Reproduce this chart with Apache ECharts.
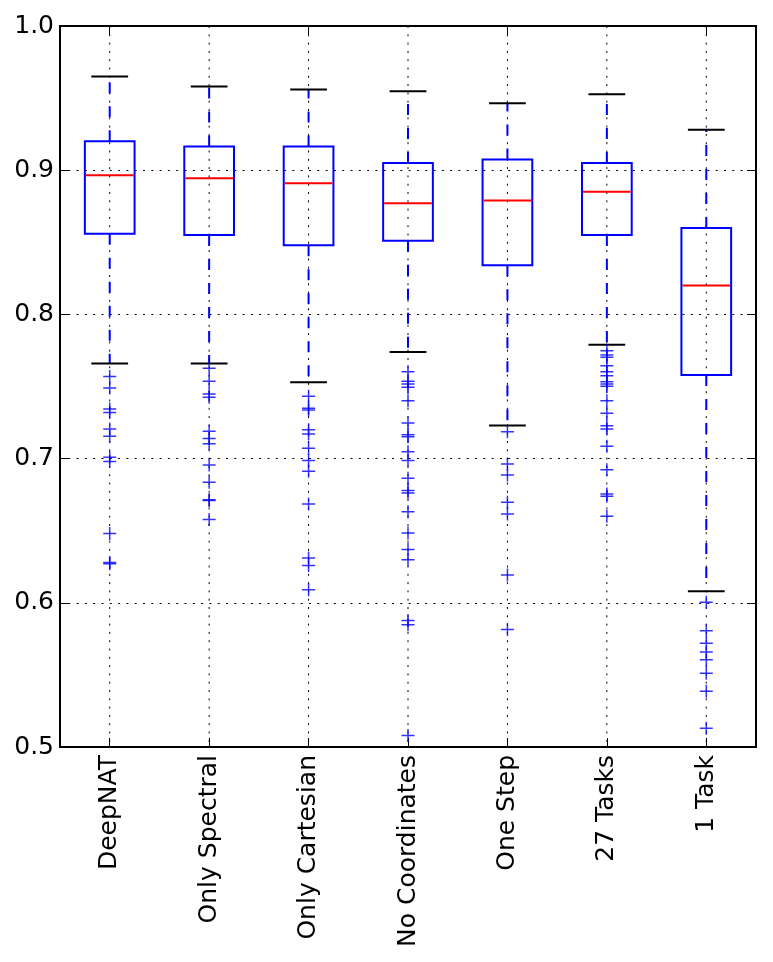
<!DOCTYPE html>
<html>
<head>
<meta charset="utf-8">
<script src="https://cdn.jsdelivr.net/npm/echarts@6/dist/echarts.min.js"></script>
<style>
  html, body { margin: 0; padding: 0; background: #fff; }
  #chart { width: 773px; height: 962px; }
</style>
</head>
<body>
<div id="chart"></div>
<script>
const categories = ['DeepNAT', 'Only Spectral', 'Only Cartesian', 'No Coordinates', 'One Step', '27 Tasks', '1 Task']
const yTicks = [0.5, 0.6, 0.7, 0.8, 0.9, 1.0]

// box statistics per category
const lowerWhisker = [0.766, 0.766, 0.753, 0.774, 0.723, 0.779, 0.608]
const q1 = [0.856, 0.855, 0.848, 0.851, 0.834, 0.855, 0.758]
const medians = [0.8965, 0.8945, 0.891, 0.877, 0.879, 0.885, 0.820]
const q3 = [0.920, 0.9165, 0.9165, 0.905, 0.9075, 0.905, 0.860]
const upperWhisker = [0.965, 0.958, 0.956, 0.9547, 0.9464, 0.9527, 0.928]

// fliers per category
const outliers = [
  [0.757, 0.749, 0.7344, 0.732, 0.7205, 0.7155, 0.701, 0.698, 0.648, 0.628, 0.627],
  [0.7626, 0.7536, 0.7448, 0.7425, 0.7189, 0.714, 0.7103, 0.6956, 0.6836, 0.6715, 0.671, 0.6577],
  [0.7432, 0.735, 0.7337, 0.720, 0.717, 0.7071, 0.6986, 0.6912, 0.6685, 0.631, 0.6258, 0.609],
  [0.7603, 0.7536, 0.7517, 0.7494, 0.7401, 0.7247, 0.7166, 0.7152, 0.7048, 0.6986, 0.6863, 0.6778, 0.6762, 0.6632, 0.6484, 0.6369, 0.6299, 0.5877, 0.5847, 0.508],
  [0.7187, 0.6963, 0.6886, 0.6697, 0.6616, 0.6193, 0.5814],
  [0.7748, 0.7718, 0.7702, 0.7644, 0.7603, 0.7575, 0.7533, 0.7517, 0.7501, 0.7401, 0.7314, 0.7228, 0.7205, 0.7085, 0.6923, 0.6755, 0.6739, 0.660],
  [0.6004, 0.5807, 0.572, 0.5658, 0.5605, 0.5512, 0.5387, 0.513]
]

const boxData = categories.map((c, i) => [i, lowerWhisker[i], q1[i], medians[i], q3[i], upperWhisker[i]])
const flierData = []
outliers.forEach((list, i) => list.forEach(v => flierData.push([i, v])))

const font = 'DejaVu Sans'
const gridDash = [2, 6.3]

function renderBox (params, api) {
  const i = api.value(0)
  const lo = api.coord([i, api.value(1)])
  const b = api.coord([i, api.value(2)])
  const m = api.coord([i, api.value(3)])
  const t = api.coord([i, api.value(4)])
  const hi = api.coord([i, api.value(5)])
  const band = api.size([1, 0])[0]
  const boxW = band * 0.5
  const capW = band * 0.37
  const x = lo[0]
  const cs = params.coordSys
  const whisker = { stroke: '#0000ff', lineWidth: 2, lineDash: [11, 13] }
  const cap = { stroke: '#000', lineWidth: 2 }
  return {
    type: 'group',
    children: [
      // vertical dotted grid line at category center
      { type: 'line', shape: { x1: x, y1: cs.y, x2: x, y2: cs.y + cs.height }, style: { stroke: '#000', lineWidth: 1, lineDash: gridDash }, z2: 0 },
      { type: 'line', shape: { x1: x, y1: b[1], x2: x, y2: lo[1] }, style: whisker, z2: 1 },
      { type: 'line', shape: { x1: x, y1: t[1], x2: x, y2: hi[1] }, style: whisker, z2: 1 },
      { type: 'line', shape: { x1: x - capW / 2, y1: lo[1], x2: x + capW / 2, y2: lo[1] }, style: cap, z2: 2 },
      { type: 'line', shape: { x1: x - capW / 2, y1: hi[1], x2: x + capW / 2, y2: hi[1] }, style: cap, z2: 2 },
      { type: 'rect', shape: { x: x - boxW / 2, y: t[1], width: boxW, height: b[1] - t[1] }, style: { fill: 'none', stroke: '#0000ff', lineWidth: 2 }, z2: 2 },
      { type: 'line', shape: { x1: x - boxW / 2 + 1, y1: m[1], x2: x + boxW / 2 - 1, y2: m[1] }, style: { stroke: '#ff0000', lineWidth: 2 }, z2: 3 }
    ]
  }
}

const chart = echarts.init(document.getElementById('chart'))
const option = {
  animation: false,
  backgroundColor: '#fff',
  grid: {
    left: 60,
    right: 17,
    top: 26,
    bottom: 215,
    show: true,
    borderColor: '#000',
    borderWidth: 2,
    backgroundColor: 'transparent'
  },
  xAxis: [
    {
      type: 'category',
      data: categories,
      boundaryGap: true,
      position: 'bottom',
      axisLine: { show: false },
      axisTick: { show: true, inside: true, alignWithLabel: true, length: 9, lineStyle: { color: '#000', width: 1 } },
      axisLabel: { rotate: 90, interval: 0, margin: 8, fontSize: 25, color: '#000', fontFamily: font },
      splitLine: { show: false }
    },
    {
      type: 'category',
      data: categories,
      boundaryGap: true,
      position: 'top',
      axisLine: { show: false },
      axisTick: { show: true, inside: true, alignWithLabel: true, length: 9, lineStyle: { color: '#000', width: 1 } },
      axisLabel: { show: false },
      splitLine: { show: false }
    }
  ],
  yAxis: [
    {
      type: 'value',
      min: 0.5,
      max: 1.0,
      interval: 0.1,
      position: 'left',
      axisLine: { show: false },
      axisTick: { show: true, inside: true, length: 9, lineStyle: { color: '#000', width: 1 } },
      axisLabel: {
        margin: 6,
        fontSize: 25,
        color: '#000',
        fontFamily: font,
        formatter: v => {
          const hit = yTicks.find(t => Math.abs(t - v) < 1e-6)
          return hit !== undefined ? hit.toFixed(1) : ''
        }
      },
      splitLine: { show: true, lineStyle: { color: '#000', width: 1, type: gridDash } }
    },
    {
      type: 'value',
      min: 0.5,
      max: 1.0,
      interval: 0.1,
      position: 'right',
      axisLine: { show: false },
      axisTick: { show: true, inside: true, length: 9, lineStyle: { color: '#000', width: 1 } },
      axisLabel: { show: false },
      splitLine: { show: false }
    }
  ],
  series: [
    {
      type: 'custom',
      name: 'box',
      xAxisIndex: 0,
      yAxisIndex: 0,
      renderItem: renderBox,
      encode: { x: 0, y: [1, 2, 3, 4, 5] },
      data: boxData,
      clip: false,
      z: 2
    },
    {
      type: 'scatter',
      name: 'fliers',
      xAxisIndex: 0,
      yAxisIndex: 0,
      symbol: 'path://M0,6L12,6M6,0L6,12',
      symbolSize: 13,
      itemStyle: { color: 'none', borderColor: '#0000ff', borderWidth: 1.5 },
      data: flierData,
      z: 3
    }
  ]
}
chart.setOption(option)
</script>
</body>
</html>
